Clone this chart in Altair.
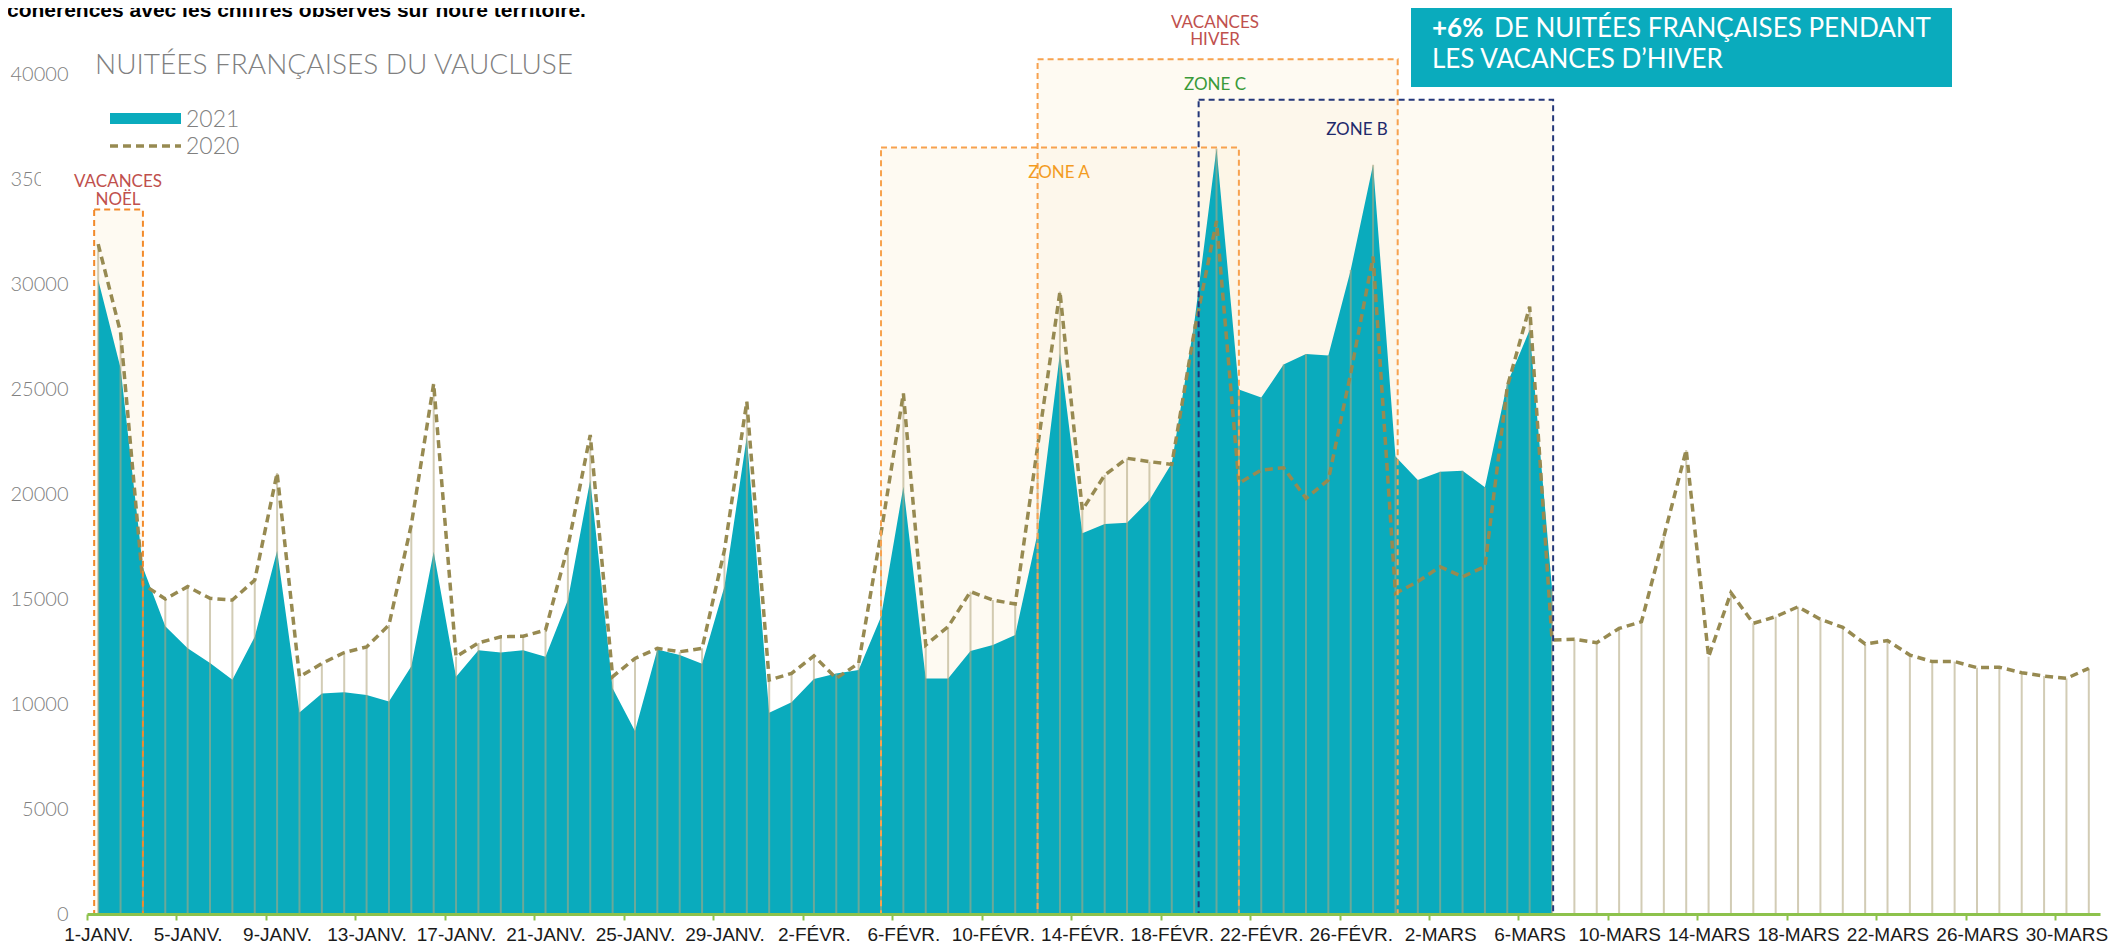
import json
import altair as alt
import pandas as pd

# ---------------- data ----------------
tick_labels = ["1-JANV.", "5-JANV.", "9-JANV.", "13-JANV.", "17-JANV.", "21-JANV.", "25-JANV.",
               "29-JANV.", "2-FÉVR.", "6-FÉVR.", "10-FÉVR.", "14-FÉVR.", "18-FÉVR.", "22-FÉVR.",
               "26-FÉVR.", "2-MARS", "6-MARS", "10-MARS", "14-MARS", "18-MARS", "22-MARS",
               "26-MARS", "30-MARS"]

nuitees_2021 = [30200, 26000, 16500, 13700, 12650, 11950, 11150, 13200, 17300, 9600,
                10500, 10560, 10430, 10120, 11800, 17250, 11300, 12560, 12450, 12560,
                12250, 14950, 20670, 10750, 8720, 12600, 12330, 11920, 15590, 22730,
                9580, 10080, 11190, 11450, 11620, 14160, 20350, 11220, 11220, 12520,
                12810, 13290, 18130, 26700, 18130, 18570, 18630, 19710, 21460, 28100,
                36450, 24980, 24590, 26170, 26670, 26590, 30670, 35680, 21780, 20670,
                21060, 21110, 20320, 25270, 27810, 15500]

nuitees_2020 = [31900, 27700, 15700, 15000, 15590, 15030, 14950, 15900, 21000, 11290,
                11930, 12450, 12720, 13760, 18540, 25250, 12250, 12910, 13200, 13230,
                13520, 17490, 22810, 11300, 12170, 12650, 12490, 12650, 17330, 24400,
                11140, 11460, 12290, 11220, 11940, 18130, 24790, 12810, 13680, 15350,
                14950, 14760, 22250, 29640, 19240, 20900, 21700, 21540, 21410, 27700,
                33000, 20510, 21140, 21250, 19790, 20670, 25750, 31300, 15270, 15830,
                16540, 16060, 16540, 25110, 28920, 13050, 13080, 12920, 13600, 13920,
                17970, 22100, 12250, 15300, 13840, 14160, 14630, 14030, 13650, 12860,
                13020, 12330, 12020, 12020, 11730, 11750, 11490, 11330, 11220, 11700]

zone_names = ["VACANCES NOËL", "ZONE A", "ZONE C", "ZONE B"]
zone_start = [-0.18, 35.0, 42.0, 49.2]
zone_end = [2.0, 51.0, 58.1, 65.05]
zone_top = [33550, 36500, 40700, 38770]
zone_colors = ["#f28a2a", "#f7a24f", "#f7a24f", "#24377a"]

y_ticks = [0, 5000, 10000, 15000, 20000, 25000, 30000, 35000, 40000]

# ---------------- layout ----------------
W, H = 2013, 840
n_days = len(nuitees_2020)
half_day = W / n_days / 2

TEAL = "#0aabbd"
OLIVE = "#978a51"
GREY = "#808080"

df21 = pd.DataFrame({"jour": list(range(len(nuitees_2021))), "v": nuitees_2021})
df20 = pd.DataFrame({"jour": list(range(n_days)), "v": nuitees_2020})
drop_top = [max(nuitees_2020[i], nuitees_2021[i] if i < len(nuitees_2021) else 0) for i in range(n_days)]
dfdrop = pd.DataFrame({"jour": list(range(n_days)), "top": drop_top})
dfzones = pd.DataFrame({"zone": zone_names, "start": zone_start, "end": zone_end,
                        "top": zone_top, "couleur": zone_colors})
one = pd.DataFrame({"k": [0]})

xs = alt.Scale(domain=[-0.5, n_days - 0.5], nice=False, zero=False)
ys = alt.Scale(domain=[0, 40000], nice=False)

label_expr = json.dumps(tick_labels, ensure_ascii=False) + "[round(datum.value / 4)]"

x_axis = alt.Axis(values=list(range(0, n_days, 4)), labelExpr=label_expr, title=None, grid=False,
                  domainColor="#8dc24c", domainWidth=3, tickColor="#8dc24c", tickWidth=2, tickSize=6,
                  tickOffset=-half_day, labelOffset=half_day, labelFont="Liberation Sans",
                  labelFontSize=19, labelColor="#1a1a1a", labelPadding=5, labelAngle=0,
                  labelOverlap=False, labelFlush=False, zindex=1)
y_axis = alt.Axis(values=y_ticks, format="d", title=None, grid=False, domain=False, ticks=False,
                  labelFont="Lato", labelFontSize=20, labelFontWeight=300, labelColor=GREY,
                  labelPadding=19, zindex=0)

X = alt.X("jour:Q", scale=xs, axis=x_axis)
Y = alt.Y("v:Q", scale=ys, axis=y_axis)

zone_fill = alt.Chart(dfzones).mark_rect(fill="#fdf3e2", opacity=0.45).encode(
    x=alt.X("start:Q", scale=xs, axis=x_axis), x2="end:Q",
    y=alt.Y("top:Q", scale=ys, axis=y_axis), y2=alt.datum(0))

area21 = alt.Chart(df21).mark_area(color=TEAL, opacity=1, interpolate="linear").encode(x=X, y=Y)

drops = alt.Chart(dfdrop).mark_rule(color="#b2a77f", strokeOpacity=0.58, strokeWidth=2).encode(
    x=X, y=alt.Y("top:Q", scale=ys, axis=y_axis), y2=alt.datum(0))

line20 = alt.Chart(df20).mark_line(color=OLIVE, strokeWidth=3.5, strokeDash=[8, 5]).encode(x=X, y=Y)

zone_border = alt.Chart(dfzones).mark_rect(fillOpacity=0, strokeWidth=2, strokeDash=[6, 4]).encode(
    x=alt.X("start:Q", scale=xs, axis=x_axis), x2="end:Q",
    y=alt.Y("top:Q", scale=ys, axis=y_axis), y2=alt.datum(0),
    stroke=alt.Stroke("couleur:N", scale=None))


def txt(text, x, y, size, color, align="left", weight="normal", font="Lato", baseline="alphabetic"):
    return alt.Chart(one).mark_text(align=align, baseline=baseline, font=font, fontSize=size,
                                    fontWeight=weight, color=color).encode(
        x=alt.value(x), y=alt.value(y), text=alt.value(text))


def box(x1, x2, y1, y2, color):
    return alt.Chart(one).mark_rect(color=color).encode(
        x=alt.value(x1), x2=alt.value(x2), y=alt.value(y1), y2=alt.value(y2))


annotations = [
    # text box hiding part of the 35000 label (as in the original)
    box(-46, 20, 95, 125, "white"),
    txt("cohérences avec les chiffres observés sur notre territoire.", -80, -57, 21, "black",
        weight="bold", font="Liberation Sans"),
    txt("NUITÉES FRANÇAISES DU VAUCLUSE", 8, 0, 28, GREY, weight=300),
    # legend
    box(23, 94, 39, 50, TEAL),
    alt.Chart(one).mark_rule(color=OLIVE, strokeWidth=3.5, strokeDash=[8, 5]).encode(
        x=alt.value(23), x2=alt.value(94), y=alt.value(72)),
    txt("2021", 99, 53, 23, GREY, weight=300),
    txt("2020", 99, 80, 23, GREY, weight=300),
    # holiday labels
    txt("VACANCES", 31, 113, 17, "#c0504d", align="center"),
    txt("NOËL", 31, 131, 17, "#c0504d", align="center"),
    txt("VACANCES", 1128, -46, 17, "#c0504d", align="center"),
    txt("HIVER", 1128, -29, 17, "#c0504d", align="center"),
    txt("ZONE C", 1128, 16, 17, "#3a9a3a", align="center"),
    txt("ZONE A", 972, 104, 17, "#f39c1f", align="center"),
    txt("ZONE B", 1270, 61, 17, "#1f2a6b", align="center"),
    # call-out
    box(1324, 1865, -71, 13, TEAL),
    txt("+6%", 1345, -37, 26, "white", weight="bold"),
    txt("DE NUITÉES FRANÇAISES PENDANT", 1407, -37, 26, "white"),
    txt("LES VACANCES D’HIVER", 1345, -6, 26, "white"),
]

chart = alt.layer(zone_fill, area21, drops, line20, zone_border, *annotations).properties(
    width=W, height=H,
    autosize=alt.AutoSizeParams(type="none"),
    padding={"left": 79, "top": 66, "right": 12, "bottom": 30},
).configure_view(stroke=None)

chart.save("out.html", embed_options={"renderer": "svg", "actions": False})
